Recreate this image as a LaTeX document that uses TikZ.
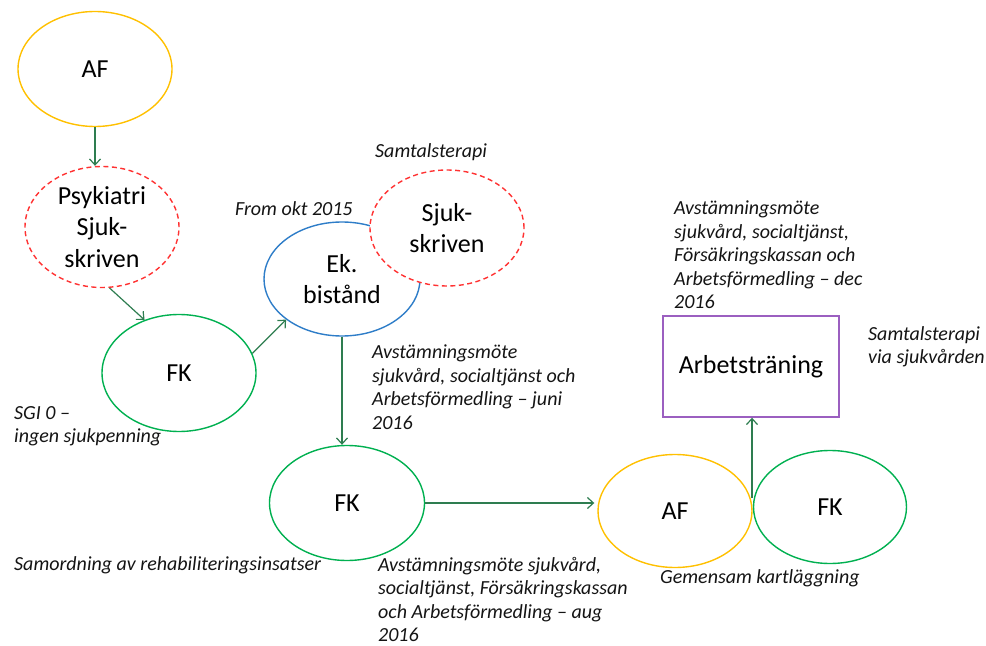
\documentclass[tikz,border=0pt]{standalone}
\usepackage{fontspec}
\setmainfont{Carlito}
\usetikzlibrary{shapes.geometric,arrows.meta}
\definecolor{cyel}{RGB}{255,192,0}
\definecolor{cred}{RGB}{255,50,50}
\definecolor{cgreen}{RGB}{0,176,80}
\definecolor{carrow}{RGB}{46,125,80}
\definecolor{cblue}{RGB}{46,125,200}
\definecolor{cpurp}{RGB}{155,95,192}
\definecolor{ctext}{RGB}{20,20,20}
\tikzset{
  oval/.style={ellipse, draw, line width=1.4bp, inner sep=0pt, minimum width=154bp, minimum height=115bp,
    font=\fontsize{26bp}{31.5bp}\selectfont, align=center, text=black},
  yel/.style={oval, draw=cyel},
  grn/.style={oval, draw=cgreen},
  blu/.style={oval, draw=cblue},
  redd/.style={oval, draw=cred, fill=white, dash pattern=on 5bp off 3.5bp},
  arr/.style={draw=carrow, line width=1.2bp, -{Straight Barb[length=6bp,width=11bp]}},
  lbl/.style={font=\fontsize{20bp}{23.5bp}\selectfont\itshape, text=ctext, inner sep=0pt, align=left},
}
\begin{document}
\begin{tikzpicture}[x=1bp,y=-1bp]
\useasboundingbox (0,0) rectangle (986,646);
% nodes
\node[yel] (af1) at (95,69) {AF};
\node[redd, minimum height=121bp] (psy) at (102,227) {Psykiatri\\Sjuk-\\skriven};
\node[grn, minimum height=117bp] (fk1) at (179,373) {FK};
\node[blu, minimum width=156bp, minimum height=114bp] (ek) at (342,279) {Ek.\\bistånd};
\node[redd, minimum height=116bp] (sj) at (447,228) {Sjuk-\\skriven};
\node[grn, minimum width=155bp] (fk2) at (347,503) {FK};
\node[yel, minimum width=154bp, minimum height=113bp] (af2) at (675,511) {AF};
\node[grn, minimum width=153bp, minimum height=113bp] (fk3) at (830,507) {FK};
\node[draw=cpurp, line width=1.4bp, minimum width=176bp, minimum height=101bp, inner sep=0pt,
  font=\fontsize{26bp}{31.5bp}\selectfont] (arb) at (751,366.5) {Arbetsträning};
% labels
\node[lbl, anchor=west] (l1) at (375,152) {Samtalsterapi};
\node[lbl, anchor=west] (l2) at (235,209) {From okt 2015};
\node[lbl, anchor=north west] (l3) at (674,201) {Avstämningsmöte\\sjukvård, socialtjänst,\\Försäkringskassan och\\Arbetsförmedling – dec\\2016};
\node[lbl, anchor=north west] (l4) at (868,326) {Samtalsterapi\\via sjukvården};
\node[lbl, anchor=north west] (l5) at (372,345) {Avstämningsmöte\\sjukvård, socialtjänst och\\Arbetsförmedling – juni\\2016};
\node[lbl, anchor=north west] (l6) at (14,406) {SGI 0 –\\ingen sjukpenning};
\node[lbl, anchor=west] (l7) at (14,565) {Samordning av rehabiliteringsinsatser};
\node[lbl, anchor=north west] (l8) at (378,557) {Avstämningsmöte sjukvård,\\socialtjänst, Försäkringskassan\\och Arbetsförmedling – aug\\2016};
\node[lbl, anchor=west] (l9) at (660,578) {Gemensam kartläggning};
% connectors
\draw[arr] (af1.south) -- (af1.south |- psy.north);
\draw[arr] (psy.-83) -- (fk1.123);
\draw[arr] (fk1.15) -- (ek.216);
\draw[arr] (ek.south) -- (ek.south |- fk2.north);
\draw[arr] (fk2.east) -- ([xshift=-3bp]fk2.east -| af2.west);
\coordinate (jt) at (752,498);
\draw[arr] (jt) -- (jt |- arb.south);
\end{tikzpicture}
\end{document}
